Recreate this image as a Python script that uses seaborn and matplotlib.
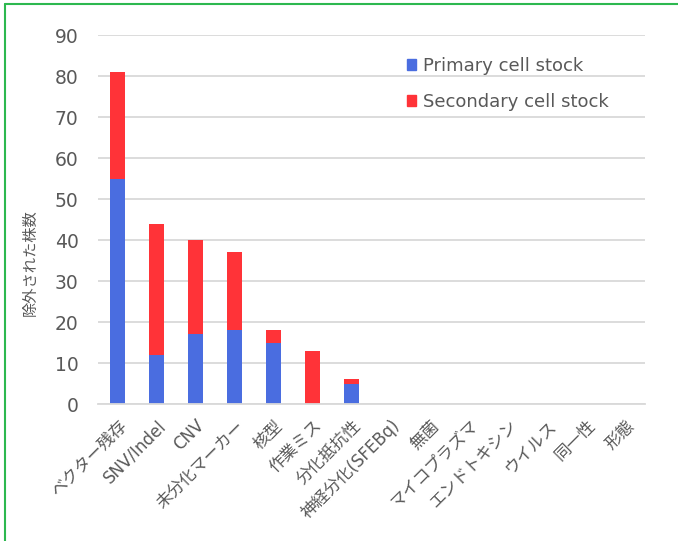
import numpy as np
import pandas as pd
import matplotlib.pyplot as plt
import seaborn as sns
from matplotlib.patches import Patch
from matplotlib.lines import Line2D

# data
categories = ["ベクター残存", "SNV/Indel", "CNV", "未分化マーカー", "核型", "作業ミス", "分化抵抗性",
              "神経分化(SFEBq)", "無菌", "マイコプラズマ", "エンドトキシン", "ウイルス", "同一性", "形態"]
primary = [55, 12, 17, 18, 15, 0, 5, 0, 0, 0, 0, 0, 0, 0]
secondary = [26, 32, 23, 19, 3, 13, 1, 0, 0, 0, 0, 0, 0, 0]

blue = "#4A6DE0"
red = "#FF3338"
gray = "#595959"

sns.set_style("white")
plt.rcParams["font.family"] = ["DejaVu Sans", "Noto Sans CJK JP"]

df = pd.DataFrame({"category": categories, "primary": primary, "secondary": secondary})
df["total"] = df["primary"] + df["secondary"]

fig = plt.figure(figsize=(6.78, 5.41), dpi=100)
ax = fig.add_axes([0.1445, 0.2532, 0.8065, 0.6818])

# stacked: draw totals (red) then primary (blue) on top
sns.barplot(data=df, x="category", y="total", color=red, width=0.39, saturation=1,
            linewidth=0, ax=ax)
sns.barplot(data=df, x="category", y="primary", color=blue, width=0.39, saturation=1,
            linewidth=0, ax=ax)

ax.set_ylim(0, 90)
ax.set_yticks(range(0, 91, 10))
ax.set_xlim(-0.5, len(categories) - 0.5)
ax.yaxis.grid(True, color="#D9D9D9", linewidth=1.3)
ax.set_axisbelow(True)
for s in ["top", "right", "left"]:
    ax.spines[s].set_visible(False)
ax.spines["bottom"].set_color("#D9D9D9")
ax.spines["bottom"].set_linewidth(1.3)

ax.tick_params(axis="y", length=0, pad=14, labelsize=13.5, labelcolor=gray)
ax.tick_params(axis="x", length=0, pad=9, labelsize=12, labelcolor=gray)
plt.setp(ax.get_xticklabels(), rotation=45, ha="right", rotation_mode="anchor")

ax.set_xlabel("")
ax.set_ylabel("除外された株数", fontsize=11, color=gray)
ax.yaxis.set_label_coords(-0.11, 0.382)

handles = [Patch(color=blue, label="Primary cell stock"),
           Patch(color=red, label="Secondary cell stock")]
ax.legend(handles=handles, loc="upper left", bbox_to_anchor=(0.535, 0.985), frameon=False,
          fontsize=13, labelcolor=gray, handlelength=0.5, handleheight=0.5,
          handletextpad=0.4, labelspacing=1.0)

# green frame (left and top edges)
fig.add_artist(Line2D([0.0075, 0.0075], [0, 0.993], color="#2DB84F", linewidth=1.5))
fig.add_artist(Line2D([0.0075, 1.0], [0.993, 0.993], color="#2DB84F", linewidth=1.5))

fig.savefig("out.png", dpi=100)
